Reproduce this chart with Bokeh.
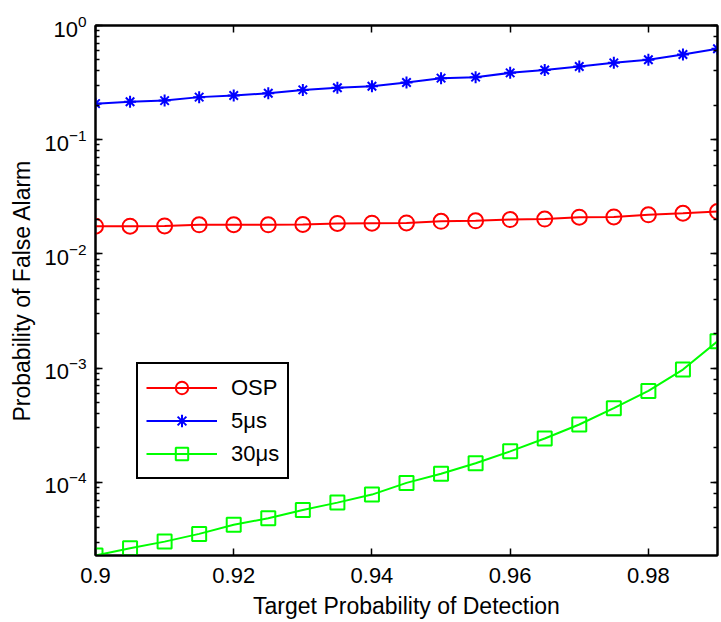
from bokeh.plotting import figure
from bokeh.models import (LinearAxis, LogAxis, FixedTicker, PrintfTickFormatter,
                          Range1d, Legend, LegendItem)
from bokeh.embed import file_html
from bokeh.resources import INLINE

# ---- data ----
pd_target = [0.900, 0.905, 0.910, 0.915, 0.920, 0.925, 0.930, 0.935, 0.940, 0.945,
             0.950, 0.955, 0.960, 0.965, 0.970, 0.975, 0.980, 0.985, 0.990]
pfa_osp = [0.0175, 0.0175, 0.0176, 0.0180, 0.0180, 0.0180, 0.0181, 0.0185, 0.0186, 0.0187,
           0.0193, 0.0195, 0.0200, 0.0202, 0.0210, 0.0211, 0.0220, 0.0227, 0.0235]
pfa_5us = [0.207, 0.215, 0.220, 0.236, 0.244, 0.255, 0.273, 0.285, 0.294, 0.317,
           0.346, 0.353, 0.385, 0.408, 0.438, 0.471, 0.501, 0.557, 0.625]
pfa_30us = [2.29e-5, 2.65e-5, 3.03e-5, 3.54e-5, 4.25e-5, 4.85e-5, 5.74e-5, 6.65e-5, 7.82e-5, 9.9e-5,
            1.19e-4, 1.47e-4, 1.87e-4, 2.42e-4, 3.21e-4, 4.46e-4, 6.32e-4, 9.72e-4, 1.72e-3]
x_ticks = [0.90, 0.92, 0.94, 0.96, 0.98]
x_range = (0.90, 0.99)
y_range = (2.29e-5, 1.0)
series_names = ["OSP", "5\u03bcs", "30\u03bcs"]
x_label = "Target Probability of Detection"
y_label = "Probability of False Alarm"

FONT = "Liberation Sans"

p = figure(width=721, height=622, y_axis_type="log",
           x_range=Range1d(*x_range), y_range=Range1d(*y_range),
           output_backend="svg", toolbar_location=None,
           min_border_left=95, min_border_right=4, min_border_top=25, min_border_bottom=67)
p.background_fill_color = "white"
p.border_fill_color = "white"
p.grid.visible = False
p.outline_line_color = "black"
p.outline_line_width = 2

def style_axis(ax, show_labels=True):
    ax.axis_line_color = "black"
    ax.axis_line_width = 2
    ax.major_tick_line_color = "black"
    ax.major_tick_line_width = 1.5
    ax.minor_tick_line_color = "black"
    ax.minor_tick_line_width = 1.5
    ax.major_tick_in = 7
    ax.major_tick_out = 0
    ax.minor_tick_in = 4
    ax.minor_tick_out = 0
    ax.major_label_text_font = FONT
    ax.major_label_text_color = "black"
    ax.axis_label_text_font = FONT
    ax.axis_label_text_font_style = "normal"
    ax.axis_label_text_color = "black"
    if show_labels:
        ax.major_label_text_font_size = "22px"
        ax.axis_label_text_font_size = "23px"
    else:
        ax.major_label_text_font_size = "0px"
        ax.major_label_standoff = 0

xax = p.xaxis[0]
xax.ticker = FixedTicker(ticks=x_ticks)
xax.formatter = PrintfTickFormatter(format="%g")
xax.axis_label = x_label
style_axis(xax)
xax.major_label_standoff = 12
xax.axis_label_standoff = 7

yax = p.yaxis[0]
yax.axis_label = y_label
style_axis(yax)
yax.major_label_standoff = 9
yax.axis_label_standoff = 6

top_ax = LinearAxis(ticker=FixedTicker(ticks=x_ticks))
style_axis(top_ax, show_labels=False)
top_ax.major_label_text_alpha = 0
p.add_layout(top_ax, "above")

right_ax = LogAxis()
style_axis(right_ax, show_labels=False)
right_ax.major_label_text_alpha = 0
p.add_layout(right_ax, "right")

colors = ["#FF0000", "#0000FF", "#00FF00"]
markers = ["circle", "asterisk", "square"]
sizes = [15, 12, 14]
series = [pfa_osp, pfa_5us, pfa_30us]

items = []
for name, ys, c, m, s in zip(series_names, series, colors, markers, sizes):
    ln = p.line(pd_target, ys, line_color=c, line_width=2)
    sc = p.scatter(pd_target, ys, marker=m, size=s, line_color=c, line_width=2,
                   fill_color=None if m != "asterisk" else c)
    items.append(LegendItem(label=name, renderers=[ln, sc]))

legend = Legend(items=items, location=(41, 76))
legend.label_text_font = FONT
legend.label_text_font_size = "22px"
legend.label_text_color = "black"
legend.glyph_width = 71
legend.glyph_height = 31
legend.label_height = 31
legend.label_standoff = 14
legend.spacing = 2
legend.padding = 8
legend.margin = 0
legend.border_line_color = "black"
legend.border_line_width = 2
legend.border_line_alpha = 1
legend.background_fill_color = "white"
legend.background_fill_alpha = 1
p.add_layout(legend, "center")

open("out.html", "w").write(file_html(p, INLINE))
